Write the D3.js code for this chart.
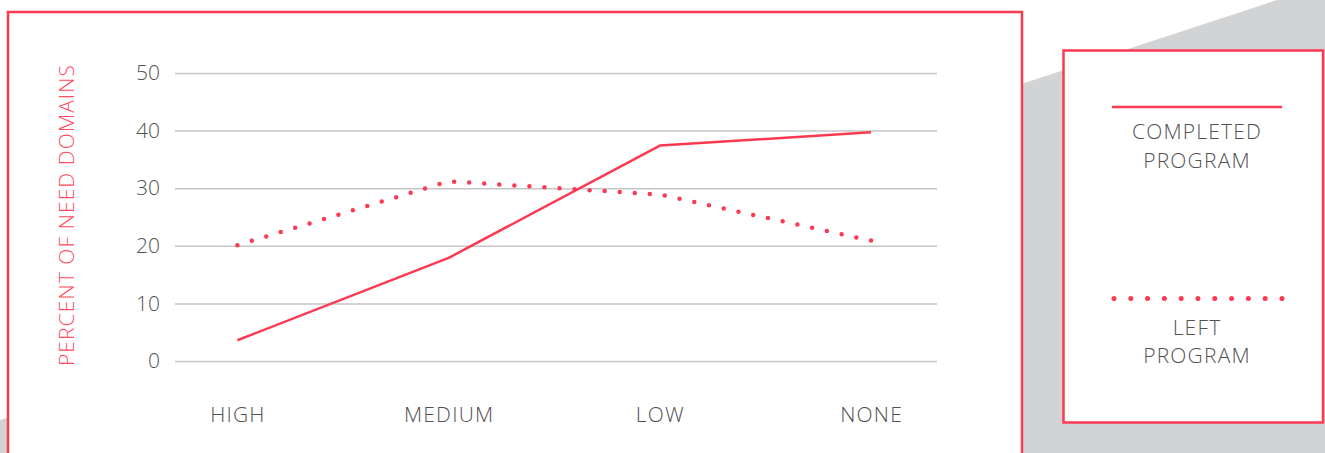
<!DOCTYPE html>
<html>
<head>
<meta charset="utf-8">
<script src="https://cdn.jsdelivr.net/npm/d3@7"></script>
<style>
  html, body { margin: 0; padding: 0; background: #fff; }
  svg { display: block; }
  text { font-family: "Open Sans", "Noto Sans", sans-serif; font-weight: 300; }
</style>
</head>
<body>
<svg id="chart" width="1325" height="453"></svg>
<script>
// Need level categories along the x axis
const categories = ["HIGH", "MEDIUM", "LOW", "NONE"];
// Percent of need domains, by program outcome
const completedProgram = [3.6, 17.9, 37.4, 39.7];
const leftProgram = [20.1, 31.2, 28.9, 20.9];
const yTicks = [0, 10, 20, 30, 40, 50];
const seriesNames = [["COMPLETED", "PROGRAM"], ["LEFT", "PROGRAM"]];

const RED = "#fb3a51";
const TEXT = "#525252";
const svg = d3.select("#chart");

// grey backdrop below a diagonal edge
svg.append("polygon")
  .attr("points", "0,420 1277,0 1325,0 1325,453 0,453")
  .attr("fill", "#d2d3d5");

// main panel
svg.append("rect")
  .attr("x", 8).attr("y", 12).attr("width", 1014).attr("height", 480)
  .attr("fill", "#fff").attr("stroke", RED).attr("stroke-width", 2.5);

// legend panel
svg.append("rect")
  .attr("x", 1063.5).attr("y", 50.5).attr("width", 259.5).attr("height", 372)
  .attr("fill", "#fff").attr("stroke", RED).attr("stroke-width", 2.5);

const gridLeft = 175, gridRight = 937, yTop = 73, yBottom = 361;
const x = d3.scalePoint().domain(categories).range([174, 934.5]).padding(0.3);
const y = d3.scaleLinear().domain([0, 50]).range([yBottom, yTop]);

// y axis with full-width gridlines
const yAxis = svg.append("g")
  .attr("transform", `translate(${gridLeft},0)`)
  .call(d3.axisLeft(y).tickValues(yTicks).tickSize(-(gridRight - gridLeft)).tickPadding(15));
yAxis.select(".domain").remove();
yAxis.selectAll(".tick line").attr("stroke", "#c6c6c6").attr("stroke-width", 1.5);
yAxis.selectAll(".tick text")
  .attr("fill", TEXT).style("font-size", "21px").style("font-family", "'Open Sans', sans-serif").style("font-weight", 300);

// x axis labels
const xAxis = svg.append("g")
  .attr("transform", `translate(0,${yBottom})`)
  .call(d3.axisBottom(x).tickSize(0).tickPadding(46));
xAxis.select(".domain").remove();
xAxis.selectAll(".tick text")
  .attr("fill", TEXT).style("font-size", "21px").style("letter-spacing", "1.2px")
  .style("font-family", "'Open Sans', sans-serif").style("font-weight", 300);

// y axis title
svg.append("text")
  .attr("transform", "translate(74,215) rotate(-90)")
  .attr("text-anchor", "middle")
  .attr("fill", "#ff4e63")
  .style("font-size", "21px").style("letter-spacing", "1.1px")
  .text("PERCENT OF NEED DOMAINS");

const line = d3.line()
  .x((d, i) => x(categories[i]))
  .y(d => y(d));

// evenly spaced round dots along a path, with a dot at each end
function dotDash(node, target) {
  const len = node.getTotalLength();
  const n = Math.round(len / target);
  const gap = (len - 0.05) / n;
  return `0 ${gap}`;
}

// left program: dotted
const dotted = svg.append("path")
  .datum(leftProgram)
  .attr("d", line)
  .attr("fill", "none")
  .attr("stroke", RED)
  .attr("stroke-width", 4.5)
  .attr("stroke-linecap", "round");
dotted.attr("stroke-dasharray", dotDash(dotted.node(), 15.2));

// completed program: solid
svg.append("path")
  .datum(completedProgram)
  .attr("d", line)
  .attr("fill", "none")
  .attr("stroke", RED)
  .attr("stroke-width", 2.5)
  .attr("stroke-linejoin", "round");

// legend
const lg = svg.append("g");
lg.append("line")
  .attr("x1", 1112).attr("x2", 1282).attr("y1", 107).attr("y2", 107)
  .attr("stroke", RED).attr("stroke-width", 2.5);
const legendDots = lg.append("line")
  .attr("x1", 1114).attr("x2", 1282).attr("y1", 298.5).attr("y2", 298.5)
  .attr("stroke", RED).attr("stroke-width", 5)
  .attr("stroke-linecap", "round");
legendDots.attr("stroke-dasharray", dotDash(legendDots.node(), 16.8));

const legendTextY = [[139, 168], [335, 363]];
seriesNames.forEach((lines, s) => {
  lines.forEach((t, k) => {
    lg.append("text")
      .attr("x", 1197).attr("y", legendTextY[s][k])
      .attr("text-anchor", "middle")
      .attr("fill", TEXT)
      .style("font-size", "21px").style("letter-spacing", "1.2px")
      .text(t);
  });
});
</script>
</body>
</html>
